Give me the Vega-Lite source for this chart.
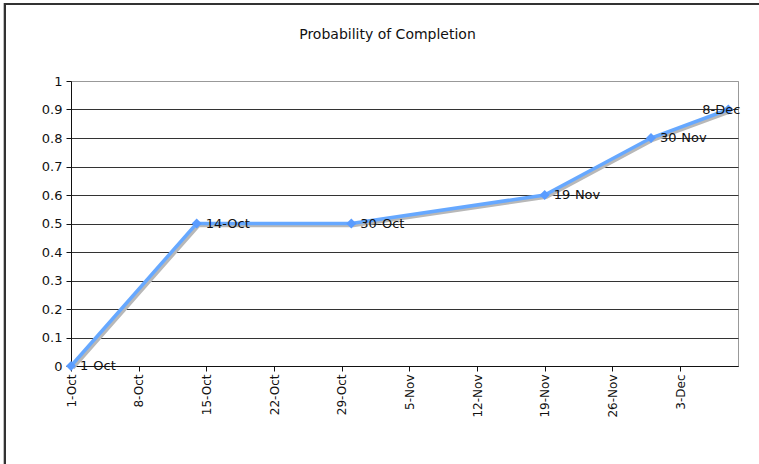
{
  "$schema": "https://vega.github.io/schema/vega-lite/v6.json",
  "width": 667,
  "height": 285,
  "autosize": {"type": "none"},
  "padding": {"left": 71, "top": 81, "right": 21, "bottom": 98},
  "background": "white",
  "title": {
    "text": "Probability of Completion",
    "font": "DejaVu Sans",
    "fontSize": 14,
    "fontWeight": "normal",
    "color": "#111",
    "anchor": "middle",
    "frame": "group",
    "dx": -17,
    "offset": -39
  },
  "config": {
    "view": {"stroke": "#999", "strokeWidth": 1},
    "axis": {
      "labelFont": "DejaVu Sans",
      "labelFontSize": 12,
      "labelColor": "#111",
      "domainColor": "#111",
      "tickColor": "#111",
      "tickSize": 5,
      "title": null
    }
  },
  "data": {
    "values": [
      {"date": "2009/10/01", "p": 0, "label": "1-Oct"},
      {"date": "2009/10/14", "p": 0.5, "label": "14-Oct"},
      {"date": "2009/10/30", "p": 0.5, "label": "30-Oct"},
      {"date": "2009/11/19", "p": 0.6, "label": "19-Nov"},
      {"date": "2009/11/30", "p": 0.8, "label": "30-Nov"},
      {"date": "2009/12/08", "p": 0.9, "label": "8-Dec"}
    ],
    "format": {"parse": {"date": "date"}}
  },
  "encoding": {
    "x": {
      "field": "date",
      "type": "temporal",
      "scale": {
        "domain": [
          {"year": 2009, "month": 10, "date": 1},
          {"year": 2009, "month": 12, "date": 9}
        ],
        "nice": false
      },
      "axis": {
        "values": [
          {"year": 2009, "month": 10, "date": 1},
          {"year": 2009, "month": 10, "date": 8},
          {"year": 2009, "month": 10, "date": 15},
          {"year": 2009, "month": 10, "date": 22},
          {"year": 2009, "month": 10, "date": 29},
          {"year": 2009, "month": 11, "date": 5},
          {"year": 2009, "month": 11, "date": 12},
          {"year": 2009, "month": 11, "date": 19},
          {"year": 2009, "month": 11, "date": 26},
          {"year": 2009, "month": 12, "date": 3}
        ],
        "format": "%-d-%b",
        "labelAngle": -90,
        "labelAlign": "right",
        "labelBaseline": "middle",
        "labelPadding": 3,
        "grid": false,
        "labelFlush": false,
        "labelOverlap": false
      }
    },
    "y": {
      "field": "p",
      "type": "quantitative",
      "scale": {"domain": [0, 1], "nice": false},
      "axis": {
        "values": [0, 0.1, 0.2, 0.3, 0.4, 0.5, 0.6, 0.7, 0.8, 0.9, 1],
        "format": "~g",
        "labelFontSize": 13,
        "grid": true,
        "gridColor": {"condition": {"test": "datum.value >= 1", "value": "#999"}, "value": "#333"},
        "gridWidth": 1,
        "labelPadding": 4,
        "labelFlush": false
      }
    }
  },
  "layer": [
    {
      "mark": {
        "type": "rect",
        "filled": false,
        "stroke": "#333",
        "strokeWidth": 2,
        "clip": false
      },
      "encoding": {
        "x": {"datum": {"year": 2009, "month": 9, "date": 24, "hours": 4}, "type": "temporal"},
        "x2": {"datum": {"year": 2009, "month": 12, "date": 20}},
        "y": {"datum": 1.27, "type": "quantitative"},
        "y2": {"datum": -0.4}
      }
    },
    {
      "mark": {"type": "line", "color": "#b8b8b8", "strokeWidth": 3.5, "xOffset": 2, "yOffset": 2}
    },
    {
      "mark": {"type": "line", "color": "#66a8ff", "strokeWidth": 3.5}
    },
    {
      "mark": {"type": "point", "shape": "diamond", "filled": true, "color": "#5a9cff", "size": 100, "opacity": 1}
    },
    {
      "transform": [{"filter": "datum.label != '8-Dec'"}],
      "mark": {"type": "text", "align": "left", "baseline": "middle", "dx": 9, "font": "DejaVu Sans", "fontSize": 13, "color": "#111"},
      "encoding": {"text": {"field": "label"}}
    },
    {
      "transform": [{"filter": "datum.label == '8-Dec'"}],
      "mark": {"type": "text", "align": "left", "baseline": "middle", "dx": -26, "font": "DejaVu Sans", "fontSize": 13, "color": "#111", "clip": false},
      "encoding": {"text": {"field": "label"}}
    }
  ]
}
